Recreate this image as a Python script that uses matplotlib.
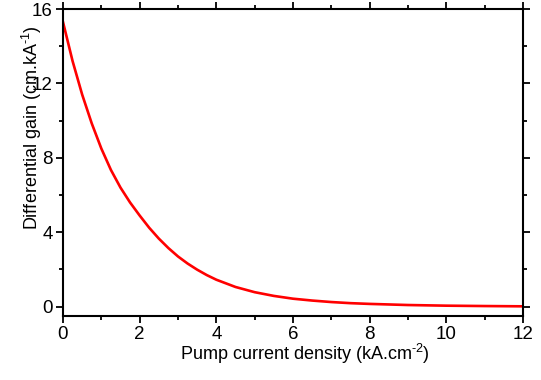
import matplotlib
matplotlib.use("Agg")
import matplotlib.pyplot as plt
from matplotlib.ticker import MultipleLocator

plt.rcParams['font.family'] = ['Liberation Sans', 'DejaVu Sans']
plt.rcParams['mathtext.fontset'] = 'custom'
plt.rcParams['mathtext.rm'] = 'Liberation Sans'
plt.rcParams['mathtext.it'] = 'Liberation Sans'

# values
current_density = [0, 0.25, 0.5, 0.75, 1, 1.25, 1.5, 1.75, 2, 2.25, 2.5, 2.75, 3,
                   3.25, 3.5, 3.75, 4, 4.5, 5, 5.5, 6, 6.5, 7, 7.5, 8, 8.5, 9,
                   10, 11, 12]
diff_gain = [15.3, 13.2, 11.4, 9.85, 8.5, 7.35, 6.4, 5.6, 4.9, 4.24, 3.66, 3.15,
             2.7, 2.32, 1.99, 1.7, 1.45, 1.06, 0.78, 0.58, 0.43, 0.33, 0.25,
             0.19, 0.15, 0.12, 0.09, 0.055, 0.035, 0.02]

x_ticks = [0, 2, 4, 6, 8, 10, 12]
y_ticks = [0, 4, 8, 12, 16]

fig = plt.figure(figsize=(5.41, 3.80), dpi=100)
ax = fig.add_axes([63/541, 1 - 316/380, 460/541, 307/380])

ax.plot(current_density, diff_gain, color='red', lw=1.9)

ax.set_xlim(0, 12)
ax.set_ylim(-0.5, 16)
ax.set_xticks(x_ticks)
ax.set_yticks(y_ticks)
ax.xaxis.set_minor_locator(MultipleLocator(1))
ax.yaxis.set_minor_locator(MultipleLocator(2))

for s in ax.spines.values():
    s.set_linewidth(1.5)
ax.tick_params(which='both', direction='out', top=True, right=True,
               labelsize=13.5, width=1.3)
ax.tick_params(which='major', length=5, pad=2.5)
ax.tick_params(which='minor', length=3)

fig.text(305/541, 1 - 354/380, r'Pump current density (kA.cm$^{\text{-2}}$)',
         ha='center', va='center', fontsize=13)
fig.text(32/541, 1 - 128/380, r'Differential gain (cm.kA$^{\text{-1}}$)',
         ha='center', va='center', rotation=90, fontsize=13)

fig.savefig('out.png', dpi=100)
